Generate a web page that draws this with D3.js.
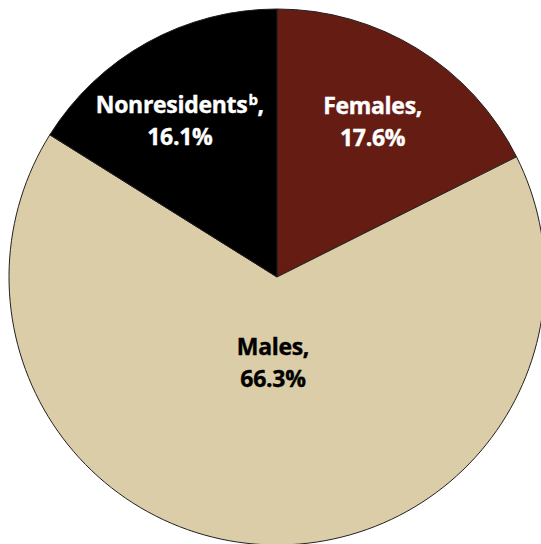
<!DOCTYPE html>
<html>
<head>
<meta charset="utf-8">
<script src="https://cdn.jsdelivr.net/npm/d3@7"></script>
<style>
  body { margin: 0; background: #fff; }
  svg text { font-family: "Open Sans", "Noto Sans", sans-serif; font-weight: 700; }
</style>
</head>
<body>
<div id="chart"></div>
<script>
// slice data, clockwise from 12 o'clock
const groups = ["Females", "Males", "Nonresidents"];
const shares = [17.6, 66.3, 16.1];
const notes = ["", "", "b"];
const colors = ["#651d13", "#dbcda8", "#000000"];
const textColors = ["#ffffff", "#000000", "#ffffff"];

const width = 541, height = 544;
const cx = 277, cy = 277, radius = 268;

const svg = d3.select("#chart").append("svg")
    .attr("width", width)
    .attr("height", height);

const g = svg.append("g")
    .attr("transform", `translate(${cx},${cy})`);

const rows = groups.map((name, i) => ({ name, value: shares[i], note: notes[i], i }));

const pie = d3.pie().sort(null).value(d => d.value);
const arcs = pie(rows);

const arc = d3.arc().innerRadius(0).outerRadius(radius);

g.selectAll("path.slice")
    .data(arcs)
    .enter()
    .append("path")
    .attr("class", "slice")
    .attr("d", arc)
    .attr("fill", d => colors[d.data.i])
    .attr("stroke", "#231f20")
    .attr("stroke-width", 1);

// big slice gets its label nearer the middle; small nudge for the left one
const labelRadius = d => (d.endAngle - d.startAngle) > Math.PI ? 86 : 182;
const nudge = [[0, 0], [0, 0], [-9, 3]];

const labels = g.selectAll("text.label")
    .data(arcs)
    .enter()
    .append("text")
    .attr("class", "label")
    .attr("text-anchor", "middle")
    .attr("font-size", 23)
    .attr("letter-spacing", -0.3)
    .attr("fill", d => textColors[d.data.i])
    .attr("stroke", d => textColors[d.data.i])
    .attr("stroke-width", 0.4)
    .attr("transform", d => {
        const a = (d.startAngle + d.endAngle) / 2;
        const r = labelRadius(d);
        const n = nudge[d.data.i];
        return `translate(${r * Math.sin(a) + n[0]},${-r * Math.cos(a) + n[1]})`;
    });

labels.each(function(d) {
    const t = d3.select(this);
    const first = t.append("tspan").attr("x", 0).attr("y", -8);
    first.append("tspan").text(d.data.name);
    if (d.data.note) {
        first.append("tspan")
            .attr("font-size", 15)
            .attr("dx", 1)
            .attr("dy", -8)
            .text(d.data.note);
        first.append("tspan").attr("dy", 8).text(",");
    } else {
        first.append("tspan").text(",");
    }
    t.append("tspan").attr("x", 0).attr("y", 24).text(d.data.value.toFixed(1) + "%");
});
</script>
</body>
</html>
